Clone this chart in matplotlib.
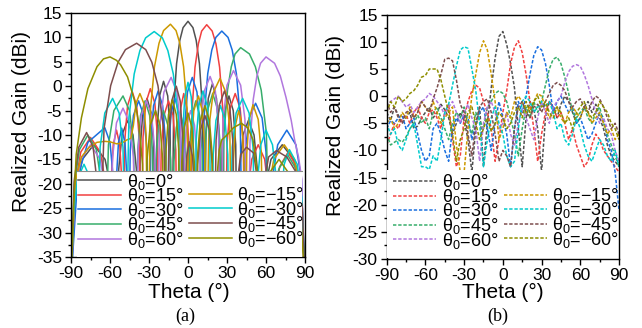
import matplotlib
matplotlib.use('Agg')
import matplotlib.pyplot as plt
from matplotlib.patches import Rectangle
from matplotlib.lines import Line2D
from matplotlib.ticker import MultipleLocator

plt.rcParams['font.family'] = ['Liberation Sans', 'DejaVu Sans']
plt.rcParams['mathtext.fontset'] = 'custom'
plt.rcParams['mathtext.rm'] = 'Liberation Sans'
plt.rcParams['mathtext.it'] = 'Liberation Sans:italic'
plt.rcParams['mathtext.bf'] = 'Liberation Sans:bold'
plt.rcParams['axes.unicode_minus'] = False

# ---------------- data ----------------
scan_labels = ['0°', '15°', '30°', '45°', '60°', '−15°', '−30°', '−45°', '−60°']
colors = ['#515151', '#F14040', '#1A6FDF', '#37AD6B', '#B177DE',
          '#CC9900', '#00CBCC', '#7D4E4E', '#8E8E00']

# (a) simulated patterns: (theta, gain dBi)
a_p0 = [(-90,-40),(-86.5,-22),(-81.3,-15),(-72.5,-12),(-63.8,-15),(-58.5,-22),(-55,-40),
        (-53.3,-17),(-50.8,-10),(-46.5,-7),(-42.3,-10),(-39.7,-17),(-38,-40),
        (-36.7,-12.5),(-34.8,-5.5),(-31.5,-2.5),(-28.3,-5.5),(-26.3,-12.5),(-25,-40),
        (-23.8,-9),(-21.9,-2),(-18.8,1),(-15.6,-2),(-13.8,-9),(-12.5,-40),
        (-11,-4.2),(-8.8,4.6),(-6.3,9.4),(-3.8,12),(0,13.3),(3.8,12),(6.3,9.4),(8.8,4.6),(11,-4.2),(12.5,-40),
        (13.8,-9.5),(15.6,-2.5),(18.8,0.5),(21.9,-2.5),(23.8,-9.5),(25,-40),
        (26.3,-12),(28.3,-5),(31.5,-2),(34.8,-5),(36.7,-12),(38,-40),
        (39.7,-17),(42.3,-10),(46.5,-7),(50.8,-10),(53.3,-17),(55,-40),
        (58.5,-22),(63.8,-15),(72.5,-12),(81.3,-15),(86.5,-22),(90,-40)]
a_p15 = [(-90,-40),(-87,-20.5),(-82.5,-13.5),(-75,-10.5),(-67.5,-13.5),(-63,-20.5),(-60,-40),
         (-59,-19),(-57.5,-12),(-55,-9),(-52.5,-12),(-51,-19),(-50,-40),
         (-48.6,-11),(-46.5,-4),(-43,-1),(-39.5,-4),(-37.4,-11),(-36,-40),
         (-34.6,-10.5),(-32.5,-3.5),(-29,-0.5),(-25.5,-3.5),(-23.4,-10.5),(-22,-40),
         (-20.6,-13),(-18.5,-6),(-15,-3),(-11.5,-6),(-9.4,-13),(-8,-40),
         (-7,-11.5),(-5.6,-4.5),(-3.3,-1.5),(-0.9,-4.5),(0.5,-11.5),(1.5,-40),
         (3.1,-4.9),(5.4,3.9),(8,8.7),(10.5,11.3),(14.4,12.6),(18.6,11.3),(21.5,8.7),(24.3,3.9),(26.8,-4.9),(28.5,-40),
         (30.1,-11.5),(32.4,-4.5),(36.3,-1.5),(40.1,-4.5),(42.5,-11.5),(44,-40),
         (46,-22),(49,-15),(54,-12),(59,-15),(62,-22),(64,-40),
         (66.6,-23.5),(70.5,-16.5),(77,-13.5),(83.5,-16.5),(87.4,-23.5),(90,-40)]
a_p30 = [(-90,-40),(-84.8,-18.5),(-77,-11.5),(-64,-8.5),(-60,-11.5),(-57.6,-18.5),(-56,-40),
         (-55,-18.6),(-53.5,-11.6),(-51,-8.6),(-48.5,-11.6),(-47,-18.6),(-46,-40),
         (-44.4,-13),(-42,-6),(-38,-3),(-34,-6),(-31.6,-13),(-30,-40),
         (-28.6,-11),(-26.5,-4),(-23,-1),(-19.5,-4),(-17.4,-11),(-16,-40),
         (-14.8,-12.5),(-13,-5.5),(-10,-2.5),(-7,-5.5),(-5.2,-12.5),(-4,-40),
         (-2.6,-8.2),(-0.4,-1.2),(3.3,1.8),(6.9,-1.2),(9.1,-8.2),(10.5,-40),
         (12.4,-6.2),(15.2,2.6),(18.3,7.4),(21.4,10),(26,11.3),(30.8,10),(34,7.4),(37.2,2.6),(40.1,-6.2),(42,-40),
         (44,-13.5),(47,-6.5),(52,-3.5),(57,-6.5),(60,-13.5),(62,-40),
         (64.8,-19),(69,-12),(76,-9),(83,-12),(87.2,-19),(90,-40)]
a_p45 = [(-90,-40),(-87.4,-20),(-83.5,-13),(-77,-10),(-70.5,-13),(-66.6,-20),(-64,-40),
         (-61.2,-12),(-57,-5),(-50,-2),(-45,-5),(-42,-12),(-40,-40),
         (-38.6,-13),(-36.5,-6),(-33,-3),(-29.5,-6),(-27.4,-13),(-26,-40),
         (-24.6,-15),(-22.5,-8),(-19,-5),(-15.5,-8),(-13.4,-15),(-12,-40),
         (-10.8,-15.5),(-9,-8.5),(-6,-5.5),(-3,-8.5),(-1.2,-15.5),(0,-40),
         (1.2,-13),(3,-6),(6,-3),(9,-6),(10.8,-13),(12,-40),
         (13.4,-11.5),(15.5,-4.5),(19,-1.5),(22.5,-4.5),(24.6,-11.5),(26,-40),
         (27.7,-9.6),(30.4,-0.8),(33.3,4),(36.2,6.6),(40.5,7.9),(47.3,6.6),(51.8,4),(56.3,-0.8),(60.3,-9.6),(63,-40),
         (65.7,-24),(69.8,-17),(76.5,-14),(83.3,-17),(87.3,-24),(90,-40)]
a_p60 = [(-90,-40),(-87,-22),(-82.5,-15),(-75,-12),(-67.5,-15),(-63,-22),(-60,-40),
         (-58,-14.5),(-55,-7.5),(-50,-4.5),(-45,-7.5),(-42,-14.5),(-40,-40),
         (-38.4,-13),(-36,-6),(-32,-3),(-28,-6),(-25.6,-13),(-24,-40),
         (-21.8,-8.2),(-18.5,-1.2),(-13,1.8),(-8.5,-1.2),(-5.8,-8.2),(-4,-40),
         (-2.8,-15),(-1,-8),(2,-5),(5,-8),(6.8,-15),(8,-40),
         (9.8,-8),(12.5,-1),(17,2),(21,-1),(23.4,-8),(25,-40),
         (27,-6.8),(30,0.2),(35,3.2),(40.5,0.2),(43.8,-6.8),(46,-40),
         (47.7,-11.5),(50.2,-2.7),(53,2.1),(55.8,4.7),(60,6),(66.6,4.7),(71,2.1),(75.4,-2.3),
         (79.4,-7),(82,-11),(85,-14.5),(87.5,-19),(88.8,-35),(90,-40)]
a_m15 = [(-90,-40),(-87,-20),(-82,-14.5),(-76,-12.5),(-70,-11.5),(-64,-11.3),(-60,-11.4),(-55,-11.8),
         (-51,-11.7),(-47,-11),(-44,-10.7),(-42,-8),(-40,-3.5),(-37,-1.5),(-34,-3.5),(-32.2,-10),(-31,-40),
         (-28.9,-4.8),(-25.8,4),(-22.3,8.8),(-18.8,11.4),(-13.5,12.7),(-9.2,11.4),(-6.3,8.8),(-3.4,4),(-0.7,-4.8),(1,-40),
         (2.4,-12),(4.5,-5),(8,-2),(11,-5),(12.8,-12),(14,-40),
         (16.1,-8.4),(19.3,-1.4),(24.6,1.6),(29.3,-1.4),(32.1,-8.4),(34,-40),
         (35,-15),(36.5,-8),(39,-5),(41.5,-8),(43,-15),(44,-40),
         (45.2,-13.8),(47,-6.8),(50,-3.8),(54,-6.8),(56.4,-13.8),(58,-40),
         (61.2,-22),(66,-15),(74,-12),(82,-15),(86.8,-22),(90,-40)]
a_m30 = [(-90,-40),(-88,-26),(-85,-19),(-80,-16),(-75,-19),(-72,-26),(-70,-40),
         (-67.6,-12.5),(-64,-5.5),(-58,-2.5),(-53,-5.5),(-50,-12.5),(-48,-40),
         (-45.4,-6.3),(-41.4,2.5),(-37,7.3),(-32.6,9.9),(-26,11.2),(-19.7,9.9),(-15.5,7.3),(-11.3,2.5),(-7.5,-6.3),(-5,-40),
         (-4,-9.2),(-2.5,-2.2),(0,0.8),(2.5,-2.2),(4,-9.2),(5,-40),
         (6.3,-11),(8.3,-4),(11.5,-1),(14.8,-4),(16.7,-11),(18,-40),
         (19.4,-14),(21.5,-7),(25,-4),(28.5,-7),(30.6,-14),(32,-40),
         (34,-12.5),(37,-5.5),(42,-2.5),(47,-5.5),(50,-12.5),(52,-40),
         (53.6,-19),(56,-12),(60,-9),(65,-12),(68,-19),(70,-40),
         (71.6,-23),(74,-16),(78,-13),(84,-16),(87.6,-23),(90,-40)]
a_m45 = [(-90,-40),(-87.6,-19.5),(-84,-12.5),(-78,-9.5),(-73,-12.5),(-70,-19.5),(-68,-40),
         (-64.6,-8.7),(-59.5,0.1),(-53.8,4.9),(-48.1,7.5),(-39.5,8.8),(-32.5,7.5),(-27.8,4.9),(-23.1,0.1),(-18.8,-8.7),(-16,-40),
         (-14.6,-10),(-12.5,-3),(-9,0),(-6,-3),(-4.2,-10),(-3,-40),
         (-2.2,-21.4),(-1,-14.4),(1,-11.4),(3.5,-14.4),(5,-21.4),(6,-40),
         (7.4,-16),(9.5,-9),(13,-6),(16.5,-9),(18.6,-16),(20,-40),
         (21.6,-11),(24,-4),(28,-1),(32,-4),(34.4,-11),(36,-40),
         (37.8,-20),(40.5,-14),(45,-12.5),(50.5,-13.7),(53.8,-20),(56,-40),
         (58.4,-20),(62,-14.5),(68,-13.2),(76,-14.5),(84,-18),(88,-25),(90,-40)]
a_m60 = [(-90,-40),(-88,-25),(-86,-14),(-82,-6.5),(-77,-0.5),(-70,4),(-65,5.6),(-60,6),(-55,5.3),
         (-51.9,4.4),(-46.5,1.9),(-41.1,-3),(-37.5,-8),(-35,-16),(-33,-40),
         (-31.5,-15),(-29,-8),(-25,-5),(-21.5,-8),(-19.5,-15),(-18,-40),
         (-16.8,-12.8),(-15,-5.8),(-12,-2.8),(-9,-5.8),(-7.2,-12.8),(-6,-40),
         (-4.8,-15.5),(-3,-8.5),(0,-5.5),(3,-8.5),(4.8,-15.5),(6,-40),
         (7.4,-14),(9.5,-7),(13,-4),(16.5,-7),(18.6,-14),(20,-40),
         (22.5,-18),(24,-13),(26,-11),(30,-10),(35,-8.5),(41,-7.6),(46,-8.5),(50,-11),(53,-17),(56,-40),
         (58.5,-25),(62,-18),(70,-15),(78,-18),(86,-25),(90,-40)]
a_series = [a_p0, a_p15, a_p30, a_p45, a_p60, a_m15, a_m30, a_m45, a_m60]

# (b) measured patterns on a 3-degree grid
b_theta = [-90,-87,-84,-81,-78,-75,-72,-69,-66,-63,-60,-57,-54,-51,-48,-45,-42,-39,-36,-33,
           -30,-27,-24,-21,-18,-15,-12,-9,-6,-3,0,3,6,9,12,15,18,21,24,27,
           30,33,36,39,42,45,48,51,54,57,60,63,66,69,72,75,78,81,84,87,90]
b_p0 = [-3,-4.5,-2,-3.5,-5,-4,-3,-6,-5.5,-4,
        -3,-2,-4,-3,-1.5,-2.5,-4,-7,-5,-3,
        -4.5,-8,-14,-6,-2,-13,-5,1.5,7,11,
        11.9,
        9.5,6,1.5,-6,-13,-4,-1,-2.5,-6,-14,
        -4,-1,-2,-4,-1.5,0,-1,-3,-5,-4,
        -2,-1,-3,-1.5,-4,-6,-9,-11,-12,-13]
b_p15 = [-9,-7,-5,-6,-4,-3.5,-5,-3,-2,-4,
         -5,-3,-2.5,-4,-6,-3,-1.5,-8,-13,-11,
         -4,-1,1,2,1.5,-1,-3,-6,-12,-8,
         -3,1,6,9,10.2,8,4,-1,-6,-12,
         -7,-3,-1,-2,-4,-3,-5,-8,-6,-9,
         -11,-13,-12,-9,-7,-8,-10,-11,-12,-13,-14]
b_p30 = [-6,-4.5,-5,-4,-3.5,-6,-5,-4,-7,-10,
         -12,-11,-6,-5,-7,-10,-12,-6,-4,-5,
         -3.5,-4,-8,-5,-3,-2,-6,-10,-5,-1,
         -4,-7,-13,-6,-1,-3,0,4,7.5,9.1,
         8.5,6,2,-3,-1,0,-1.5,-3,-2,-5,
         -4,-6,-8,-7,-5,-3,-4,-8,-10,-14,-21]
b_p45 = [-7,-9,-8.5,-8,-8.5,-7.5,-6,-5,-3.5,-5,
         -4,-6,-3,-2,-4,-6,-8,-5,-3,-4,
         -2,-5,-7,-3,-4.5,-6,-2,-1,0.5,1,
         0.5,-1,-4,-7,-11,-6,-2,-4,-1,-3,
         -1,2,5,6.8,7.2,6,3.5,0.5,-3,-4,
         -3,-2,-4,-5,-3,-2,-5,-7,-9,-11,-13]
b_p60 = [-2,-1,-0.5,0,-1,-2,-1.5,-3,-2,-1,
         -0.5,0.5,0,-1,-2,-3.5,-2,-1,-3,-5,
         -3,-1.5,-4,-6,-12,-5,-2,-1,-3,-6,
         -5,-3,-7,-9,-5,-2.5,-4,-6,-8,-4,
         -1,-3,-5,-2,-1,0,2.5,4.5,5.5,5.8,
         5.5,4,2,-0.5,-3,-5,-4,-6,-7,-10,-12]
b_m15 = [-5,-4,-6,-5,-3,-4,-2,-4,-3,-1,
         -2,-3,-1,-3,-5,-4,-3,-2,-9,-14,
         -14,-6,0,4,8,10.2,8.5,4,-1,-8,
         -6,-3,-4,-1,0,-1,-3,-2,-1,0.5,
         0,-2,-4,-3,-2,-4,-5,-3,-2,-3,
         -4,-2,-3,-5,-4,-3,-5,-7,-6,-8,-7]
b_m30 = [-5,-7,-6,-9,-10,-8,-6,-5,-9,-13,
         -13,-13.5,-11,-12,-8,-3,-1.5,2,5.5,8.5,
         9.1,8.8,5,1,-5,-13,-8,-4,-2,-5,
         -7,-11,-13,-12,-6,-1,0,-1,-3,-2,
         -1,-2,-1,-3,-6,-5,-8,-9,-7,-4,
         -6,-9,-11,-12,-10,-8,-9,-11,-12,-10,-13]
b_m45 = [-1,-3,-2,-4,-5,-3,-2.5,-4,-3,-1,
         -2,-3,-0.5,1.5,4,6.8,7,6.5,3,-1.5,
         -3,-7,-11,-5,-2,-1,-0.5,-3,-7,-12,
         -10,-11,-13,-6,-2,-1,-3,-4,-2,-1.5,
         -3,-1,0.5,2,2.5,2,1,-1,-2,-1,
         -0.5,-2,-3,-1,0,-0.5,-2,-4,-6,-5,-7]
b_m60 = [-3,-1,-2,0,-1,-0.5,0.5,1,2,3.5,
         3.8,5,5,5,3,0,-3,-7,-12,-8,
         -6,-3,-2,-5,-8,-6,-4,-6.5,-5,-3,
         -4,-6,-5,-3,-2,-4,-1,-3,-1,0,
         -2,-1,-3,-4,-2,-3,-5,-4,-6,-3,
         -2,-1,-3,-4,-3,-1,-2,-3,-5,-6,-8]
b_series = [b_p0, b_p15, b_p30, b_p45, b_p60, b_m15, b_m30, b_m45, b_m60]

# ---------------- figure ----------------
W, H = 642, 328
fig = plt.figure(figsize=(W / 100, H / 100), dpi=100)
axa = fig.add_axes([71 / W, 1 - 257 / H, 234 / W, 244 / H])
axb = fig.add_axes([386.7 / W, 1 - 259 / H, 232.3 / W, 244.3 / H])


def style(ax, ylo, yhi):
    ax.set_xlim(-90, 90)
    ax.set_ylim(ylo, yhi)
    ax.xaxis.set_major_locator(MultipleLocator(30))
    ax.xaxis.set_minor_locator(MultipleLocator(15))
    ax.yaxis.set_major_locator(MultipleLocator(5))
    ax.yaxis.set_minor_locator(MultipleLocator(2.5))
    ax.tick_params(which='both', direction='out', top=False, right=False,
                   labelsize=12.5, width=1.0)
    ax.tick_params(which='major', length=4, pad=2.5)
    ax.tick_params(which='minor', length=2.5)
    for s in ax.spines.values():
        s.set_linewidth(1.0)


style(axa, -35, 15)
style(axb, -30, 15)

labels = ['θ$_0$=' + s for s in scan_labels]

# panel (a): solid lines
ha = []
for pts, c, lab in zip(a_series, colors, labels):
    th = [p[0] for p in pts]
    g = [p[1] for p in pts]
    ln, = axa.plot(th, g, color=c, lw=1.1, label=lab)
    ha.append(ln)

# panel (b): dashed lines
hb = []
for g, c, lab in zip(b_series, colors, labels):
    ln, = axb.plot(b_theta, g, color=c, lw=1.1, ls=(0, (2.2, 1.2)), label=lab)
    hb.append(ln)

# legend covers
axa.add_patch(Rectangle((6 / 234, 0), 225 / 234, 86 / 244, transform=axa.transAxes,
                        facecolor='white', edgecolor='none', zorder=3))
axa.plot([6 / 234, 231 / 234], [86 / 244, 86 / 244], transform=axa.transAxes,
         color='#8c8c8c', lw=0.8, zorder=3.1)
axb.add_patch(Rectangle((0.003, 0.003), 0.95, 0.36, transform=axb.transAxes,
                        facecolor='white', edgecolor='none', zorder=3))

blank = Line2D([], [], color='none')


def make_legend(ax, handles, anchor):
    hs = handles[:5] + [blank] + handles[5:]
    ls = [h.get_label() for h in handles[:5]] + [''] + [h.get_label() for h in handles[5:]]
    leg = ax.legend(hs, ls, ncol=2, loc='upper left', bbox_to_anchor=anchor,
                    frameon=False, fontsize=13, handlelength=2.4, handletextpad=0.3,
                    columnspacing=0.3, labelspacing=-0.3, borderaxespad=0, borderpad=0)
    leg.set_zorder(5)
    return leg


make_legend(axa, ha, (0.03, 0.35))
make_legend(axb, hb, (0.027, 0.355))

# axis labels and captions
fig.text(22 / W, 1 - 121.5 / H, 'Realized Gain (dBi)', rotation=90, ha='center', va='center', fontsize=15)
fig.text(336 / W, 1 - 125.5 / H, 'Realized Gain (dBi)', rotation=90, ha='center', va='center', fontsize=15)
fig.text(189 / W, 1 - 292 / H, 'Theta (°)', ha='center', va='center', fontsize=15)
fig.text(502.5 / W, 1 - 292 / H, 'Theta (°)', ha='center', va='center', fontsize=15)
fig.text(185 / W, 1 - 316 / H, '(a)', ha='center', va='center', fontsize=13, family='Liberation Serif')
fig.text(498 / W, 1 - 316 / H, '(b)', ha='center', va='center', fontsize=13, family='Liberation Serif')

fig.savefig('out.png', dpi=100)
